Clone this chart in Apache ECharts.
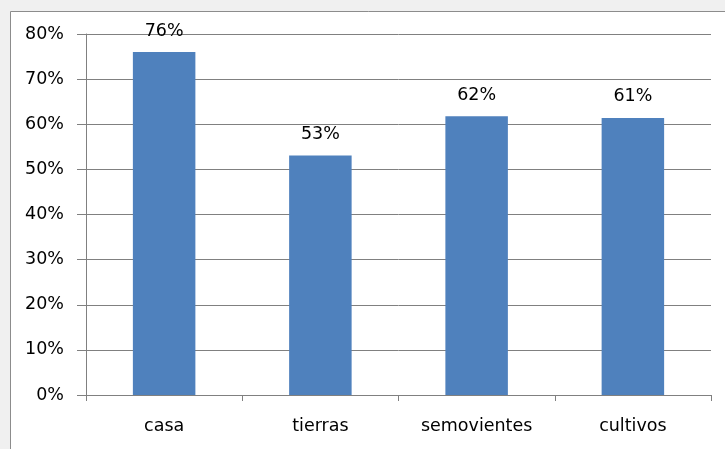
<!DOCTYPE html>
<html>
<head>
<meta charset="utf-8">
<script src="https://cdn.jsdelivr.net/npm/echarts@6/dist/echarts.min.js"></script>
<style>
  html, body { margin: 0; padding: 0; background: #f0f0f0; }
  #chart { width: 725px; height: 449px; }
</style>
</head>
<body>
<div id="chart"></div>
<script>
// datos del gráfico
let categorias = ['casa', 'tierras', 'semovientes', 'cultivos'];
let porcentajes = [76, 53.1, 61.8, 61.4];
let etiquetas = ['76%', '53%', '62%', '61%'];
let ejeY = [0, 10, 20, 30, 40, 50, 60, 70, 80];

let myChart = echarts.init(document.getElementById('chart'));

let fuente = 'DejaVu Sans';

let option = {
    animation: false,
    backgroundColor: '#f0f0f0',
    graphic: [{
        type: 'rect',
        z: -10,
        shape: { x: 10.5, y: 11.5, width: 730, height: 450 },
        style: { fill: '#ffffff', stroke: '#8c8c8c', lineWidth: 1 }
    }],
    grid: {
        left: 86,
        right: 14,
        top: 34,
        bottom: 54
    },
    xAxis: {
        type: 'category',
        data: categorias,
        axisLine: { lineStyle: { color: '#808080', width: 1 } },
        axisTick: { show: true, length: 6, lineStyle: { color: '#808080' } },
        axisLabel: { color: '#000', fontFamily: fuente, fontSize: 17.5, margin: 22 }
    },
    yAxis: {
        type: 'value',
        min: ejeY[0],
        max: ejeY[ejeY.length - 1],
        interval: 10,
        axisLine: { show: true, lineStyle: { color: '#808080', width: 1 } },
        axisTick: { show: true, length: 9, lineStyle: { color: '#808080' } },
        splitLine: { lineStyle: { color: '#808080', width: 1 } },
        axisLabel: {
            color: '#000', fontFamily: fuente, fontSize: 17.5, margin: 22,
            formatter: function (v) { return v + '%'; }
        }
    },
    series: [{
        type: 'bar',
        data: porcentajes,
        barCategoryGap: '60%',
        itemStyle: { color: '#4f81bd' },
        label: {
            show: true,
            position: 'top',
            distance: 12,
            color: '#000',
            fontFamily: fuente,
            fontSize: 17.5,
            formatter: function (p) { return etiquetas[p.dataIndex]; }
        }
    }]
};

myChart.setOption(option);
</script>
</body>
</html>
